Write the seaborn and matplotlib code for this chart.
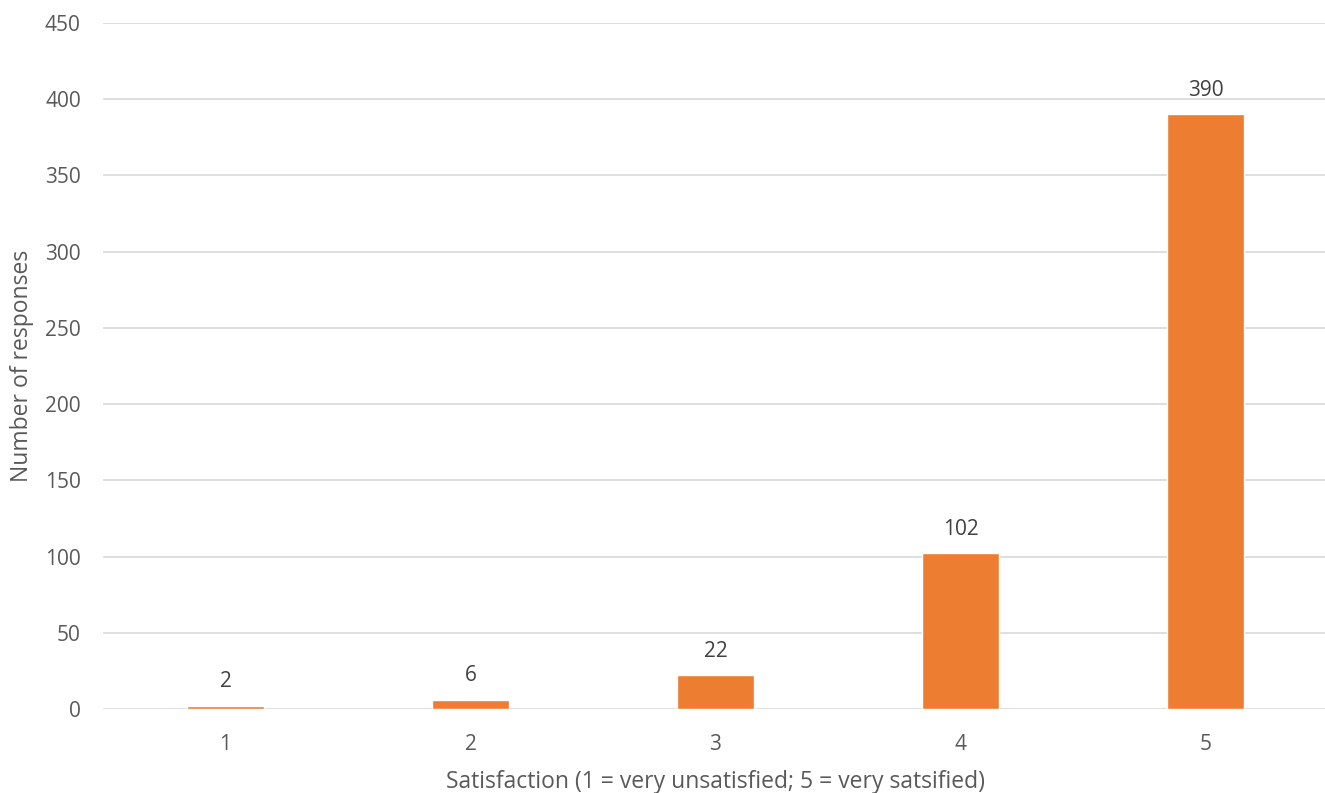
import matplotlib
matplotlib.use("Agg")
import matplotlib.pyplot as plt
import seaborn as sns
import pandas as pd

categories = ["1", "2", "3", "4", "5"]
responses = [2, 6, 22, 102, 390]
yticks = [0, 50, 100, 150, 200, 250, 300, 350, 400, 450]

sns.set_theme(style="white")
plt.rcParams['font.family'] = ['Open Sans', 'DejaVu Sans']

df = pd.DataFrame({"cat": categories, "val": responses})

fig = plt.figure(figsize=(13.25, 7.93), dpi=100)
ax = fig.add_axes([103 / 1325, 0.106, 1225 / 1325, 0.865])
sns.barplot(data=df, x="cat", y="val", color="#ED7D31", saturation=1, width=0.315, ax=ax)

ax.set_ylim(0, 450)
ax.set_yticks(yticks)
ax.set_xlim(-0.5, 4.5)
ax.grid(axis="y", color="#d9d9d9", linewidth=1.2)
ax.set_axisbelow(True)
for s in ax.spines.values():
    s.set_visible(False)
ax.tick_params(axis="both", length=0, labelsize=15, labelcolor="#595959")
ax.tick_params(axis="y", pad=16)
ax.tick_params(axis="x", pad=18)
ax.set_xlabel("Satisfaction (1 = very unsatisfied; 5 = very satsified)", fontsize=16.5, color="#595959", labelpad=11)
ax.set_ylabel("Number of responses", fontsize=16.5, color="#595959", labelpad=8)
for c in ax.containers:
    ax.bar_label(c, labels=[str(v) for v in responses], padding=10, fontsize=15, color="#404040")

fig.savefig("out.png", dpi=100)
